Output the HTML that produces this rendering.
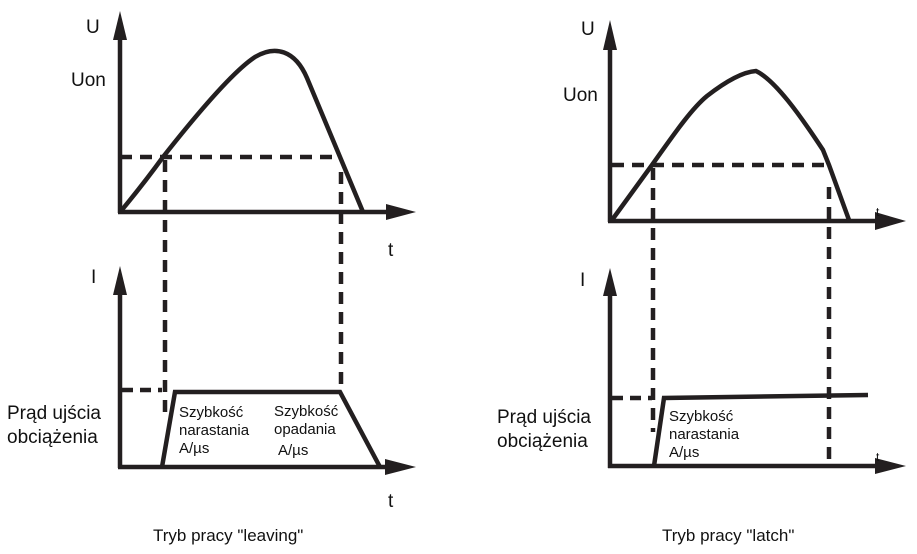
<!DOCTYPE html>
<html><head><meta charset="utf-8"><style>
html,body{margin:0;padding:0;background:#fff;width:917px;height:554px;overflow:hidden}
svg text{font-family:"Liberation Sans",sans-serif;fill:#111}
</style></head><body>
<svg width="917" height="554" viewBox="0 0 917 554" xmlns="http://www.w3.org/2000/svg">
<g stroke="#231f20" fill="none" stroke-width="4.5">
<!-- left upper -->
<line x1="120" y1="30" x2="120" y2="213"/>
<line x1="118" y1="212" x2="390" y2="212"/>
<path d="M121 211 C140 188 150 175 163 157 C200 110 235 70 255 57 C275 45 295 50 307 78 L363 212"/>
<g stroke-dasharray="12 8"><line x1="120" y1="157" x2="340" y2="157"/>
<line x1="165" y1="160" x2="165" y2="420"/>
<line x1="341" y1="172" x2="341" y2="390"/></g>
<!-- left lower -->
<line x1="120" y1="290" x2="120" y2="468"/>
<line x1="118" y1="467" x2="390" y2="467"/>
<path d="M162 467 L175 392 L340 392 L380 467"/>
<line x1="122" y1="390" x2="162" y2="390" stroke-dasharray="11 7"/>
<!-- right upper -->
<line x1="610" y1="45" x2="610" y2="222"/>
<line x1="608" y1="221" x2="880" y2="221"/>
<path d="M612 220 L652 165 C670 140 690 110 707 96 C725 82 742 72 756 71 C775 80 800 115 823 150 L829 165 L849 220"/>
<g stroke-dasharray="12 8"><line x1="612" y1="165" x2="829" y2="165"/>
<line x1="653" y1="168" x2="653" y2="432"/>
<line x1="829" y1="187" x2="829" y2="466"/></g>
<!-- right lower -->
<line x1="610" y1="290" x2="610" y2="468"/>
<line x1="608" y1="466" x2="880" y2="466"/>
<path d="M654 466 L664 398 L868 395"/>
<line x1="612" y1="398" x2="652" y2="398" stroke-dasharray="11 7"/>
</g>
<g fill="#231f20">
<polygon points="113,40 127,40 120,11"/>
<polygon points="386,204 386,220 416,212"/>
<polygon points="113,295 127,295 120,266"/>
<polygon points="385,459 385,475 416,467"/>
<polygon points="603,50 617,50 610,20"/>
<polygon points="875,212 875,230 906,221"/>
<polygon points="603,296 617,296 610,268"/>
<polygon points="875,458 875,474 906,466"/>
</g>
<text x="86" y="33" font-size="19">U</text>
<text x="71" y="86" font-size="19">Uon</text>
<text x="388" y="256" font-size="19">t</text>
<text x="91" y="283" font-size="19">I</text>
<text x="7" y="419" font-size="19">Prąd ujścia</text>
<text x="7" y="443" font-size="19">obciążenia</text>
<text x="179" y="417" font-size="15">Szybkość</text>
<text x="179" y="435" font-size="15">narastania</text>
<text x="179" y="453" font-size="15">A/µs</text>
<text x="274" y="416" font-size="15">Szybkość</text>
<text x="274" y="434" font-size="15">opadania</text>
<text x="278" y="455" font-size="15">A/µs</text>
<text x="388" y="507" font-size="19">t</text>
<text x="153" y="541" font-size="17">Tryb pracy "leaving"</text>
<text x="581" y="35" font-size="19">U</text>
<text x="563" y="101" font-size="19">Uon</text>
<text x="876" y="216" font-size="12">t</text>
<text x="580" y="286" font-size="19">I</text>
<text x="497" y="423" font-size="19">Prąd ujścia</text>
<text x="497" y="447" font-size="19">obciążenia</text>
<text x="669" y="421" font-size="15">Szybkość</text>
<text x="669" y="439" font-size="15">narastania</text>
<text x="669" y="457" font-size="15">A/µs</text>
<text x="876" y="461" font-size="12">t</text>
<text x="662" y="541" font-size="17">Tryb pracy "latch"</text>
</svg>
</body></html>
